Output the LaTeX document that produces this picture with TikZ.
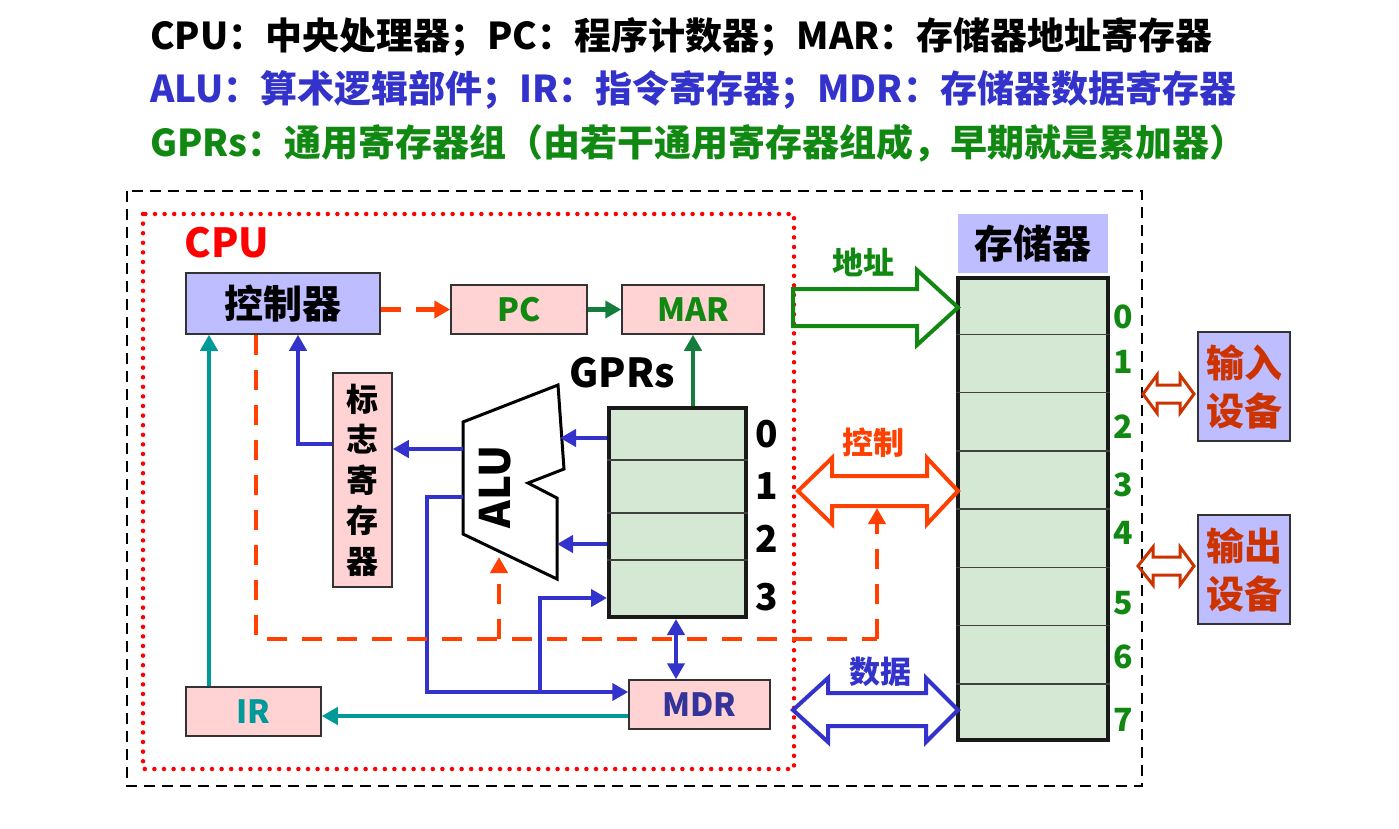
\documentclass[tikz,border=0pt]{standalone}
\usepackage{fontspec}
\setmainfont{Noto Sans CJK SC}
\usetikzlibrary{arrows.meta,calc}
\definecolor{lav}{RGB}{189,189,255}
\definecolor{pinkbox}{RGB}{255,211,211}
\definecolor{regfill}{RGB}{213,232,212}
\definecolor{dkgreen}{RGB}{17,136,17}
\definecolor{pcgreen}{RGB}{20,125,60}
\definecolor{blu}{RGB}{51,51,204}
\definecolor{mdrblue}{RGB}{51,51,153}
\definecolor{ctlred}{RGB}{255,64,0}
\definecolor{ioorange}{RGB}{204,51,0}
\definecolor{tealc}{RGB}{0,153,153}
\tikzset{
  box/.style={draw=black!80,line width=1.5pt,inner sep=0pt},
  reg/.style={draw=black!90,line width=4pt,fill=regfill,inner sep=0pt},
  divider/.style={draw=black!75,line width=1.5pt},
  hugetext/.style={font=\fontsize{40pt}{44pt}\selectfont\bfseries,inner sep=0pt},
  bigtext/.style={font=\fontsize{37pt}{40pt}\selectfont\bfseries,inner sep=0pt},
  midtext/.style={font=\fontsize{32pt}{40.5pt}\selectfont\bfseries,inner sep=0pt},
  smalltext/.style={font=\fontsize{31pt}{34pt}\selectfont\bfseries,inner sep=0pt},
  tip/.style={-{Triangle[length=16pt,width=17pt]}},
  bluearr/.style={draw=blu,line width=4.5pt,tip},
  tealarr/.style={draw=tealc,line width=4.5pt,tip},
  greenarr/.style={draw=pcgreen,line width=4.5pt,tip},
  ctldash/.style={draw=ctlred,line width=4.5pt,dash pattern=on 20pt off 15pt},
  fatarrow/.style={draw=#1,line width=4pt,line join=miter},
  ioarrow/.style={draw=ioorange,line width=3pt,line join=miter}
}
\begin{document}
\begin{tikzpicture}[x=1pt,y=-1pt]
\useasboundingbox (0,0) rectangle (1399,828);
% legend
\node (t1) [bigtext,anchor=west] at (150,37) {CPU：中央处理器；PC：程序计数器；MAR：存储器地址寄存器};
\node (t2) [bigtext,anchor=west,text=blu] at (150,90) {ALU：算术逻辑部件；IR：指令寄存器；MDR：存储器数据寄存器};
\node (t3) [bigtext,anchor=west,text=dkgreen] at (150,143) {GPRs：通用寄存器组（由若干通用寄存器组成，早期就是累加器）};
% frames
\draw[black,line width=2pt,dash pattern=on 11pt off 7pt] (127,191) rectangle (1142,786);
\draw[red,line width=4.5pt,line cap=round,dash pattern=on 0pt off 9.6pt] (143,214) rectangle (794,769);
\node (cpu) [hugetext,text=red] at (227,243) {CPU};
% CPU parts
\node (ctrl) [box,fill=lav,minimum width=194pt,minimum height=61pt,font=\fontsize{39pt}{40pt}\selectfont\bfseries] at (283,303.5) {控制器};
\node (pc) [box,fill=pinkbox,minimum width=136pt,minimum height=49pt,midtext,text=dkgreen] at (519,309.5) {PC};
\node (mar) [box,fill=pinkbox,minimum width=142pt,minimum height=49pt,midtext,text=dkgreen] at (693,309.5) {MAR};
\node (flag) [box,fill=pinkbox,minimum width=59pt,minimum height=214pt,midtext,align=center] at (362.5,480) {标\\志\\寄\\存\\器};
\node (gprs) [reg,minimum width=137pt,minimum height=209pt] at (677.5,512.5) {};
\foreach \d in {54,107,154}
  \draw[divider] ($(gprs.north west)+(0,\d)$) -- ($(gprs.north east)+(0,\d)$);
\node (gprslbl) [hugetext] at (622,373) {GPRs};
\foreach \i/\y in {0/434,1/486,2/539,3/597}
  \node (g\i) [bigtext] at (767,\y) {\i};
\draw[black,line width=3pt,fill=white] (463,422) -- (558,385) -- (564,469) -- (528,483) -- (557,498) -- (557,579) -- (463,534) -- cycle;
\node (alu) [font=\fontsize{42pt}{44pt}\selectfont\bfseries,inner sep=0pt,rotate=90] at (495,487) {ALU};
\node (mdr) [box,fill=pinkbox,minimum width=141pt,minimum height=49pt,midtext,text=mdrblue] at (699.5,704.5) {MDR};
\node (ir) [box,fill=pinkbox,minimum width=135pt,minimum height=49pt,midtext,text=tealc] at (253.5,711.5) {IR};
% memory
\node (memlbl) [fill=lav,minimum width=150pt,minimum height=59pt,font=\fontsize{39pt}{40pt}\selectfont\bfseries] at (1033,243.5) {存储器};
\node (mem) [reg,minimum width=150pt,minimum height=462pt] at (1033,509) {};
\foreach \k in {1,...,7}
  \draw[divider] ($(mem.north west)!\k/8!(mem.south west)$) -- ($(mem.north east)!\k/8!(mem.south east)$);
\foreach \i/\y in {0/317,1/362,2/427,3/485,4/533,5/603,6/657,7/720}
  \node (m\i) [midtext,text=dkgreen] at (1123,\y) {\i};
% I/O
\node (inp) [box,fill=lav,minimum width=92pt,minimum height=109pt,font=\fontsize{38pt}{48pt}\selectfont\bfseries,text=ioorange,align=center] at (1244,386.5) {输入\\设备};
\node (outp) [box,fill=lav,minimum width=92pt,minimum height=109pt,font=\fontsize{38pt}{48pt}\selectfont\bfseries,text=ioorange,align=center] at (1244,569.5) {输出\\设备};
% coordinates for bends
\coordinate (aluR1) at (560,438);
\coordinate (aluR2) at (557,544);
\coordinate (aluL1) at (463,449);
\coordinate (aluL2) at (463,497);
\coordinate (c1) at (298,444);
\coordinate (c2) at (427,692);
\coordinate (c3) at (540,598);
\coordinate (c4) at (676,650);
\coordinate (c5) at (0,716);
\coordinate (c6) at (209,0);
\coordinate (c7) at (256,639);
\coordinate (c8) at (877,639);
\coordinate (c9) at (499,557);
\coordinate (ctlbot) at (877,508);
% connectors
\draw[greenarr] (pc) -- (mar);
\draw[greenarr] (mar.south |- gprs.north) -- (mar.south);
\draw[bluearr] (gprs.west |- aluR1) -- (aluR1);
\draw[bluearr] (gprs.west |- aluR2) -- (aluR2);
\draw[bluearr] (aluL1) -- (flag.east |- aluL1);
\draw[bluearr] (flag.west |- c1) -- (c1) -- (c1 |- ctrl.south);
\draw[bluearr] (aluL2) -| (c2) -- (mdr.west |- c2);
\draw[bluearr] (c3 |- c2) -- (c3) -- (gprs.west |- c3);
\draw[bluearr,{Triangle[length=16pt,width=17pt]}-{Triangle[length=16pt,width=17pt]}] (gprs.south -| c4) -- (mdr.north -| c4);
\draw[tealarr] (mdr.west |- c5) -- (ir.east |- c5);
\draw[tealarr] (ir.north -| c6) -- (ctrl.south -| c6);
\draw[ctldash,tip] (ctrl.east |- pc.west) -- (pc.west);
\draw[ctldash] (ctrl.south -| c7) -- (c7) -- (c8);
\draw[ctldash,tip] (c8) -- (ctlbot);
\draw[ctldash,tip] (c9 |- c7) -- (c9);
% buses
\node (addr) [smalltext,text=dkgreen] at (863,262) {地址};
\node (ctl) [smalltext,text=ctlred] at (873,443) {控制};
\node (data) [smalltext,text=blu] at (880,672) {数据};
\draw[fatarrow=dkgreen] (793,289) -- (917,289) -- (917,270) -- (958,307.5) -- (917,345) -- (917,326) -- (793,326) -- cycle;
\draw[fatarrow=ctlred] (798,491) -- (832,458) -- (832,476) -- (927,476) -- (927,458) -- (958,491) -- (927,524) -- (927,506) -- (832,506) -- (832,524) -- cycle;
\draw[fatarrow=blu] (793,710) -- (828,678) -- (828,693) -- (926,693) -- (926,678) -- (958,710) -- (926,742) -- (926,726) -- (828,726) -- (828,742) -- cycle;
\draw[ioarrow] (1143,394) -- (1157,375) -- (1157,385) -- (1180,385) -- (1180,375) -- (1194,394) -- (1180,413) -- (1180,403) -- (1157,403) -- (1157,413) -- cycle;
\draw[ioarrow] (1138,566) -- (1153,547) -- (1153,557) -- (1180,557) -- (1180,547) -- (1194,566) -- (1180,585) -- (1180,575) -- (1153,575) -- (1153,585) -- cycle;
\end{tikzpicture}
\end{document}
